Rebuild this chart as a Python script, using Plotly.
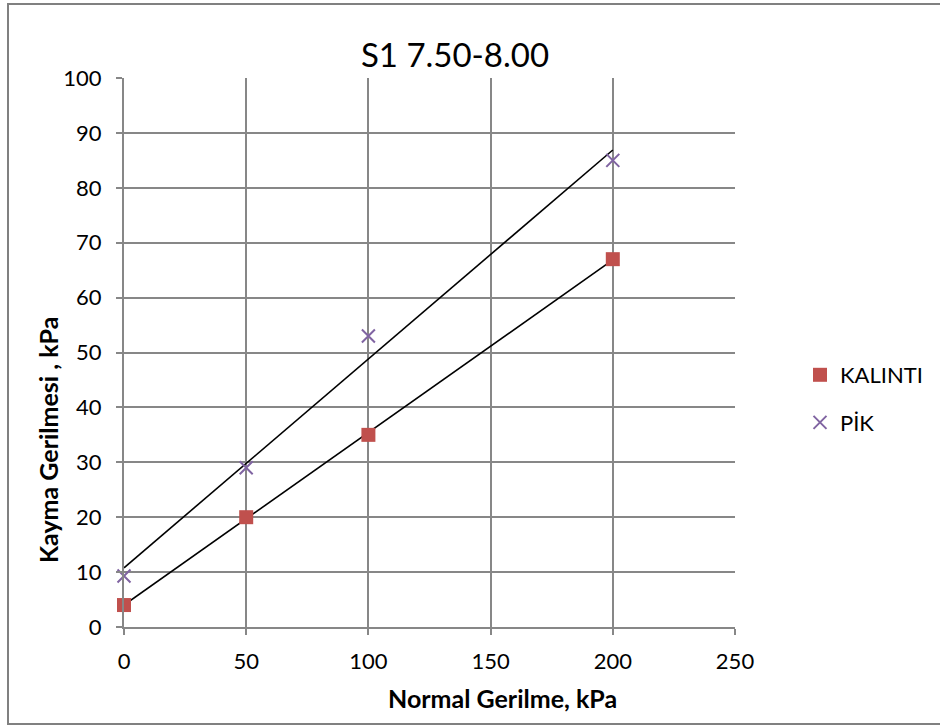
import numpy as np
import plotly.graph_objects as go

title = "S1 7.50-8.00"
x_title = "Normal Gerilme, kPa"
y_title = "Kayma Gerilmesi , kPa"
normal_stress = [0, 50, 100, 200]
kalinti = [4, 20, 35, 67]
pik = [9.3, 29, 53, 85]
x_ticks = [0, 50, 100, 150, 200, 250]
y_ticks = [0, 10, 20, 30, 40, 50, 60, 70, 80, 90, 100]

FONT = "Lato"
GRID = "#878787"

fig = go.Figure()

# trendlines (linear fit of each series)
xs = np.array(normal_stress, dtype=float)
for ys in (kalinti, pik):
    m, c = np.polyfit(xs, np.array(ys, dtype=float), 1)
    xl = np.array([xs.min(), xs.max()])
    fig.add_trace(go.Scatter(x=xl, y=m * xl + c, mode="lines",
                             line=dict(color="black", width=1.6),
                             showlegend=False, hoverinfo="skip", cliponaxis=False))

fig.add_trace(go.Scatter(x=normal_stress, y=kalinti, mode="markers", name="KALINTI",
                         legendgroup="a", cliponaxis=False,
                         marker=dict(symbol="square", size=14, color="#C0504D",
                                     line=dict(width=0))))
fig.add_trace(go.Scatter(x=normal_stress, y=pik, mode="markers", name="PİK",
                         legendgroup="b", cliponaxis=False,
                         marker=dict(symbol="x-thin", size=13, color="#8064A2",
                                     line=dict(width=2, color="#8064A2"))))

axis_common = dict(showgrid=True, gridcolor=GRID, gridwidth=2,
                   showline=True, linecolor=GRID, linewidth=2,
                   ticks="outside", ticklen=6, tickcolor=GRID, tickwidth=2,
                   zeroline=False, automargin=False,
                   tickfont=dict(family=FONT, size=22, color="black"))

fig.update_xaxes(range=[0, 250], tickvals=x_ticks, mirror=False, ticklabelstandoff=8,
                 **axis_common)
fig.update_yaxes(range=[0, 100], tickvals=y_ticks, ticklabelstandoff=10,
                 **axis_common)

L, R, T, B = 124, 205, 78, 99
W, H = 940, 726
pw, ph = W - L - R, H - T - B

fig.update_layout(
    width=W, height=H,
    margin=dict(l=L, r=R, t=T, b=B, autoexpand=False),
    paper_bgcolor="white", plot_bgcolor="white",
    title=dict(text=title, x=(455 - L) / pw, xref="paper", xanchor="center",
               y=(H - 55) / H, yanchor="middle", automargin=False,
               font=dict(family=FONT, size=33, color="black")),
    legend=dict(x=(800 - L) / pw, y=(627 - 399) / ph, xanchor="left", yanchor="middle",
                font=dict(family=FONT, size=22, color="black"),
                traceorder="grouped", tracegroupgap=16, itemwidth=30,
                bgcolor="rgba(0,0,0,0)"),
    annotations=[
        dict(text="<b>" + x_title + "</b>", xref="paper", yref="paper",
             x=(502 - L) / pw, y=(627 - 698) / ph, xanchor="center", yanchor="middle",
             showarrow=False, font=dict(family=FONT, size=25, color="black")),
        dict(text="<b>" + y_title + "</b>", xref="paper", yref="paper", textangle=-90,
             x=(48 - L) / pw, y=(627 - 440) / ph, xanchor="center", yanchor="middle",
             showarrow=False, font=dict(family=FONT, size=25, color="black")),
    ],
    shapes=[dict(type="rect", xref="paper", yref="paper",
                 x0=(8 - L) / pw, x1=(960 - L) / pw,
                 y0=(627 - 724) / ph, y1=(627 - 4) / ph,
                 line=dict(color="#808080", width=2), fillcolor="rgba(0,0,0,0)",
                 layer="below")],
)

fig.write_html("out.html", config={"displayModeBar": False},
               post_script="document.body.style.margin='0';")
